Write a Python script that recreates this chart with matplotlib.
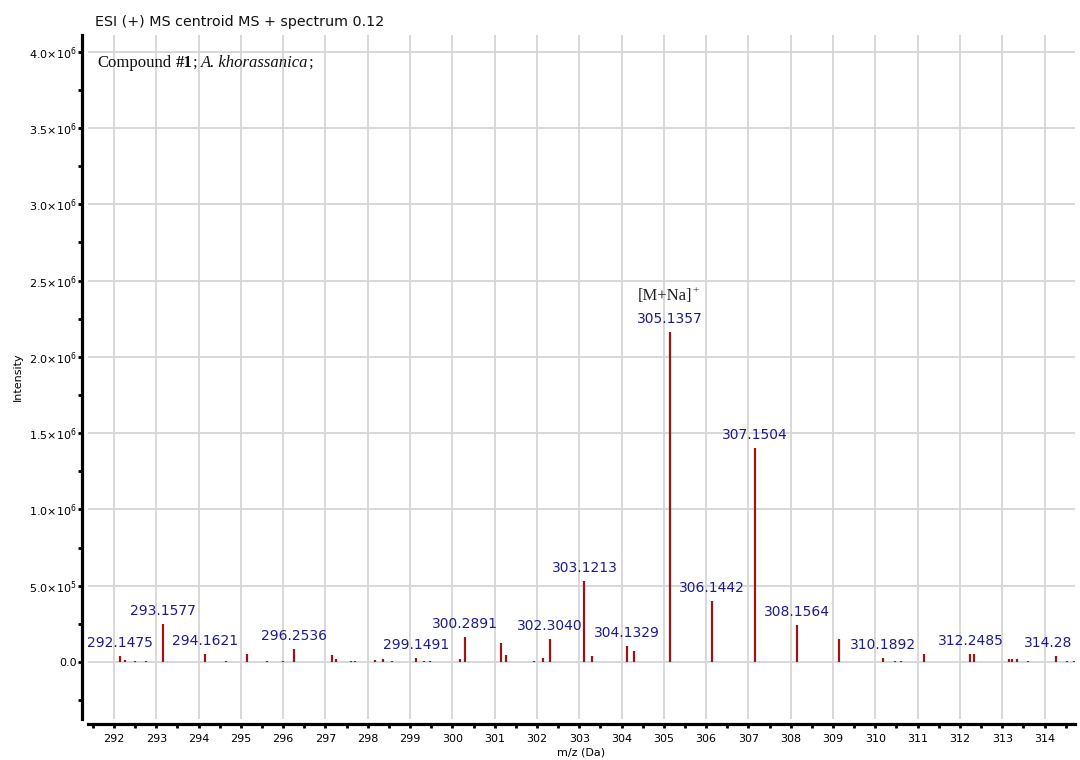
import matplotlib
matplotlib.use("Agg")
import matplotlib.pyplot as plt
from matplotlib.ticker import MultipleLocator, FuncFormatter

# Centroided peaks: m/z and intensity
mz = [292.1475, 292.25, 292.50, 292.75, 293.1577, 294.1621, 294.64, 295.14,
      295.62, 296.00, 296.2536, 297.16, 297.24, 297.60, 297.70, 298.16,
      298.35, 298.58, 299.1491, 299.34, 299.48, 300.17, 300.2891, 301.14,
      301.27, 301.93, 302.15, 302.3040, 303.1213, 303.31, 304.1329, 304.29,
      305.1357, 306.1442, 307.1504, 308.1564, 309.15, 310.1892, 310.46,
      310.60, 311.14, 312.2485, 312.34, 313.15, 313.24, 313.34, 313.62,
      314.28, 314.53, 314.69]
intensity = [4.1e4, 1.3e4, 4e3, 4e3, 2.51e5, 5.2e4, 3e3, 5.2e4,
             3e3, 3e3, 8.7e4, 4.4e4, 2.0e4, 3e3, 3e3, 1.5e4,
             2.0e4, 3e3, 2.8e4, 8e3, 3e3, 2.0e4, 1.61e5, 1.26e5,
             4.6e4, 3e3, 2.6e4, 1.51e5, 5.31e5, 3.7e4, 1.02e5, 7.2e4,
             2.163e6, 3.97e5, 1.402e6, 2.40e5, 1.51e5, 2.8e4, 3e3,
             3e3, 5.5e4, 5.5e4, 5.2e4, 2.0e4, 2.0e4, 2.0e4, 3e3,
             3.7e4, 3e3, 3e3]

# Peak labels (text as printed); the peak position is the labelled m/z
peak_labels = ["292.1475", "293.1577", "294.1621", "296.2536", "299.1491",
               "300.2891", "302.3040", "303.1213", "304.1329", "305.1357",
               "306.1442", "307.1504", "308.1564", "310.1892", "312.2485",
               "314.28"]

y_ticks = [0.0, 5e5, 1e6, 1.5e6, 2e6, 2.5e6, 3e6, 3.5e6, 4e6]
x_ticks = list(range(292, 315))

title = "ESI (+) MS centroid MS + spectrum 0.12"
x_label = "m/z (Da)"
y_label = "Intensity"

peak_color = "#981616"
label_color = "#1c1c8c"
grid_color = "#d6d6d6"

fig = plt.figure(figsize=(10.8, 7.6), dpi=100)
ax = fig.add_axes([88 / 1080, 41 / 760, 987 / 1080, 684 / 760])

ax.set_xlim(291.386, 314.72)
ax.set_ylim(-3.74e5, 4.11e6)

# grid
ax.set_xticks(x_ticks)
ax.set_yticks(y_ticks)
ax.grid(True, color=grid_color, linewidth=1.3, zorder=0)
ax.set_axisbelow(True)

# peaks
ax.vlines(mz, 0, intensity, colors=peak_color, linewidth=1.6, zorder=3)

# m/z labels above peaks
inten_of = dict(zip(mz, intensity))
for lab in peak_labels:
    m = float(lab)
    # the last label sits against the right edge, nudge it inward
    dx = -6 if m > 314 else 0
    ax.annotate(lab, xy=(m, inten_of[m]), xytext=(dx, 6.5),
                textcoords="offset points", ha="center", va="baseline",
                fontsize=10, color=label_color, family="DejaVu Sans",
                zorder=4)

# adduct annotation over the base peak
base = 305.1357
adduct = ax.annotate("[M+Na]", xy=(base, inten_of[base]), xytext=(-3, 23),
                     textcoords="offset points", ha="center", va="baseline",
                     fontsize=12, color="#222222", family="Liberation Serif")
ax.annotate("+", xy=(1, 1), xycoords=adduct, xytext=(-0.5, 1.5),
            textcoords="offset points", ha="left", va="top",
            fontsize=8, color="#222222", family="Liberation Serif")

# spines
for side in ("top", "right"):
    ax.spines[side].set_visible(False)
ax.spines["left"].set_position(("outward", 4.3))
ax.spines["bottom"].set_position(("outward", 3.6))
ax.spines["left"].set_linewidth(2.3)
ax.spines["bottom"].set_linewidth(2.3)

ax.xaxis.set_minor_locator(MultipleLocator(0.5))
ax.yaxis.set_minor_locator(MultipleLocator(2.5e5))
ax.tick_params(axis="both", which="major", direction="out", length=3,
               width=2, labelsize=8, color="black")
ax.tick_params(axis="both", which="minor", direction="out", length=3,
               width=2, color="black")
ax.tick_params(axis="x", pad=4)
ax.tick_params(axis="y", pad=1)


def sci_fmt(v, pos):
    if v == 0:
        return "0.0"
    exp = 0
    mant = v
    while abs(mant) >= 10:
        mant /= 10
        exp += 1
    return r"$%.1f{\times}10^{%d}$" % (mant, exp)


ax.yaxis.set_major_formatter(FuncFormatter(sci_fmt))

ax.set_xlabel(x_label, fontsize=8, labelpad=3)
ax.set_ylabel(y_label, fontsize=8, labelpad=4)

fig.text(95 / 1080, 1 - 22 / 760, title, fontsize=10.3, ha="left",
         va="center", color="#111111")

# compound caption in a serif face with bold and italic parts
cap_kw = dict(fontsize=12, color="#111111", family="Liberation Serif")
t1 = ax.text(97 / 1080, 1 - 67 / 760, "Compound", transform=fig.transFigure,
             ha="left", va="baseline", **cap_kw)
t2 = ax.annotate("#1", xy=(1, 0), xycoords=t1, xytext=(3, 0),
                 textcoords="offset points", ha="left", va="bottom",
                 fontweight="bold", **cap_kw)
t3 = ax.annotate(";", xy=(1, 0), xycoords=t2, ha="left", va="bottom",
                 **cap_kw)
t4 = ax.annotate("A. khorassanica", xy=(1, 0), xycoords=t3, xytext=(3, 0),
                 textcoords="offset points", ha="left", va="bottom",
                 fontstyle="italic", **cap_kw)
ax.annotate(";", xy=(1, 0), xycoords=t4, ha="left", va="bottom", **cap_kw)

fig.savefig("out.png", dpi=100)
